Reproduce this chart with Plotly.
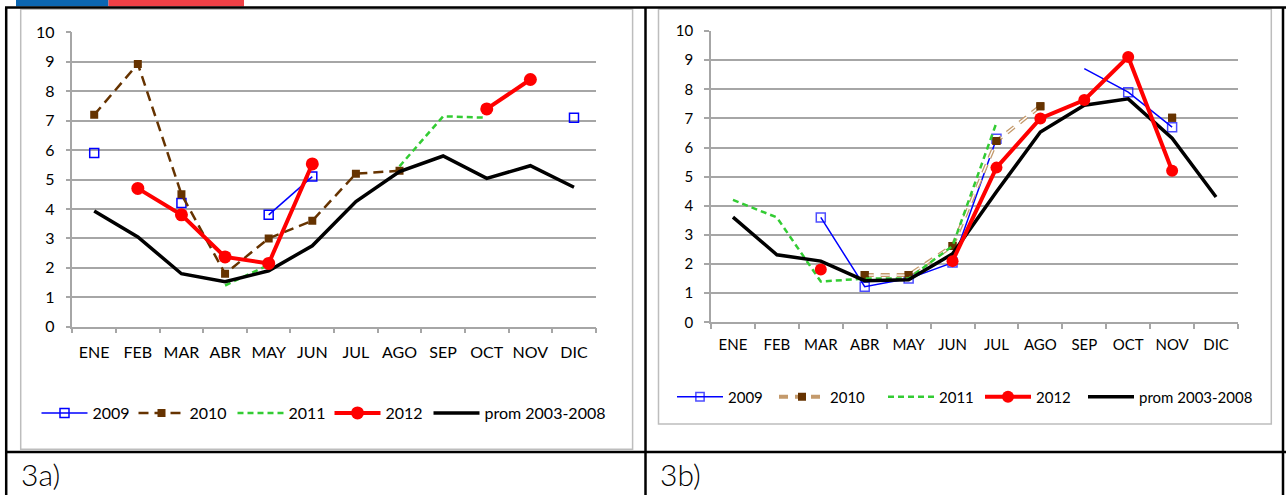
import plotly.graph_objects as go

W, H = 1286, 495

months = ["ENE", "FEB", "MAR", "ABR", "MAY", "JUN", "JUL", "AGO", "SEP", "OCT", "NOV", "DIC"]
y_ticks = [0, 1, 2, 3, 4, 5, 6, 7, 8, 9, 10]
series_names = ["2009", "2010", "2011", "2012", "prom 2003-2008"]
panel_labels = ["3a)", "3b)"]

# ---- panel 3a ----
a_2009 = [5.9, None, 4.2, None, 3.8, 5.1, None, None, None, None, None, 7.1]
a_2010 = [7.2, 8.93, 4.5, 1.8, 3.0, 3.6, 5.2, 5.3, None, None, None, None]
a_2011 = [None, None, None, 1.4, 2.1, None, None, 5.45, 7.15, 7.1, None, None]
a_2012 = [None, 4.7, 3.8, 2.37, 2.15, 5.53, None, None, None, 7.4, 8.4, None]
a_prom = [3.93, 3.05, 1.8, 1.53, 1.9, 2.75, 4.25, 5.27, 5.8, 5.04, 5.47, 4.74]

# ---- panel 3b ----
b_2009 = [None, None, 3.6, 1.22, 1.5, 2.05, 6.3, None, 8.71, 7.9, 6.7, None]
b_2010 = [None, None, None, 1.62, 1.62, 2.62, 6.22, 7.42, None, None, 7.02, None]
b_2011 = [4.2, 3.6, 1.4, 1.5, 1.5, 2.62, 6.85, None, None, None, None, None]
b_2012 = [None, None, 1.81, None, None, 2.1, 5.31, 7.0, 7.63, 9.11, 5.2, None]
b_prom = [3.61, 2.32, 2.1, 1.43, 1.46, 2.35, 4.48, 6.53, 7.45, 7.67, 6.32, 4.3]

FONT = "Lato, 'Open Sans', sans-serif"
BLUE = "#0000ff"
BROWN = "#663300"
TAN = "#c49a6c"
GREEN = "#33cc33"
RED = "#ff0000"
GRID = "#a6a6a6"


def px_x(x):
    return x / W


def px_y(y):
    return 1 - y / H


fig = go.Figure()

# ----- 3a traces -----
ax = dict(xaxis="x", yaxis="y", legend="legend")
fig.add_trace(go.Scatter(x=months, y=a_2009, name=series_names[0], mode="lines+markers",
                         line=dict(color=BLUE, width=1.5),
                         marker=dict(symbol="square-open", size=9, color=BLUE, line=dict(width=1.5, color=BLUE)),
                         legendrank=1, legendwidth=36, **ax))
fig.add_trace(go.Scatter(x=months, y=a_2010, name=series_names[1], mode="lines+markers",
                         line=dict(color=BROWN, width=2.5, dash="10px,6px"),
                         marker=dict(symbol="square", size=8, color=BROWN),
                         legendrank=2, legendwidth=38, **ax))
fig.add_trace(go.Scatter(x=months, y=a_2011, name=series_names[2], mode="lines",
                         line=dict(color=GREEN, width=2.5, dash="6px,4px"),
                         legendrank=3, legendwidth=36, **ax))
fig.add_trace(go.Scatter(x=months, y=a_prom, name=series_names[4], mode="lines",
                         line=dict(color="black", width=3.5),
                         legendrank=5, **ax))
fig.add_trace(go.Scatter(x=months, y=a_2012, name=series_names[3], mode="lines+markers",
                         line=dict(color=RED, width=4),
                         marker=dict(symbol="circle", size=13, color=RED),
                         legendrank=4, legendwidth=38, **ax))

# ----- 3b traces -----
bx = dict(xaxis="x2", yaxis="y2", legend="legend2")
fig.add_trace(go.Scatter(x=months, y=b_2009, name=series_names[0], mode="lines+markers",
                         line=dict(color=BLUE, width=1.5),
                         marker=dict(symbol="square-open", color=BLUE, line=dict(width=1.5, color=BLUE),
                                     size=[0 if m == "SEP" else 9 for m in months]),
                         legendrank=1, legendwidth=41, **bx))
fig.add_trace(go.Scatter(x=months, y=b_2010, name=series_names[1], mode="lines+markers",
                         line=dict(color=TAN, width=4, dash="9px,7px"),
                         marker=dict(symbol="square", size=8, color=BROWN),
                         legendrank=2, legendwidth=48, **bx))
fig.add_trace(go.Scatter(x=months, y=b_2010, name=series_names[1], mode="lines",
                         line=dict(color="white", width=1.4, dash="9px,7px"),
                         showlegend=False, hoverinfo="skip", **bx))
fig.add_trace(go.Scatter(x=months, y=b_2010, name=series_names[1], mode="markers",
                         marker=dict(symbol="square", size=8, color=BROWN),
                         showlegend=False, **bx))
fig.add_trace(go.Scatter(x=months, y=b_2011, name=series_names[2], mode="lines",
                         line=dict(color=GREEN, width=2.5, dash="6px,4px"),
                         legendrank=3, legendwidth=36, **bx))
fig.add_trace(go.Scatter(x=months, y=b_prom, name=series_names[4], mode="lines",
                         line=dict(color="black", width=3.5),
                         legendrank=5, **bx))
fig.add_trace(go.Scatter(x=months, y=b_2012, name=series_names[3], mode="lines+markers",
                         line=dict(color=RED, width=4),
                         marker=dict(symbol="circle", size=12, color=RED),
                         legendrank=4, legendwidth=42, **bx))

xcommon = dict(type="category", categoryorder="array", categoryarray=months, range=[-0.5, 11.5],
               tickson="boundaries", ticks="outside", ticklen=5, tickwidth=1.5, tickcolor=GRID,
               showgrid=False, showline=True, linecolor=GRID, linewidth=1.5, zeroline=False,
               fixedrange=True, color="black", tickangle=0, automargin=False)
ycommon = dict(range=[0, 10], tickvals=y_ticks, ticks="outside", ticklen=5, tickwidth=1.5, tickcolor=GRID,
               showgrid=True, gridcolor=GRID, gridwidth=2, showline=True, linecolor=GRID, linewidth=1.5,
               zeroline=False, fixedrange=True, color="black", automargin=False)

legcommon = dict(orientation="h", xanchor="left", yanchor="middle", bgcolor="rgba(0,0,0,0)",
                 itemwidth=46, traceorder="normal", borderwidth=0)

shapes = []
# header colour bar
shapes.append(dict(type="rect", xref="paper", yref="paper", x0=px_x(16), x1=px_x(108.5), y0=px_y(0), y1=px_y(6.5),
                   fillcolor="#0b66b2", line=dict(width=0)))
shapes.append(dict(type="rect", xref="paper", yref="paper", x0=px_x(108.5), x1=px_x(244), y0=px_y(0), y1=px_y(6.5),
                   fillcolor="#ef4046", line=dict(width=0)))
# chart frames
shapes.append(dict(type="rect", xref="paper", yref="paper", x0=px_x(20.7), x1=px_x(632.6), y0=px_y(449.3), y1=px_y(9.3),
                   line=dict(color="#bdbdbd", width=1.5), layer="below"))
shapes.append(dict(type="rect", xref="paper", yref="paper", x0=px_x(658.5), x1=px_x(1271.3), y0=px_y(424), y1=px_y(9.3),
                   line=dict(color="#bdbdbd", width=1.5), layer="below"))
# table lines
tl = dict(color="black", width=2.5)
shapes.append(dict(type="line", xref="paper", yref="paper", x0=px_x(5), x1=1, y0=px_y(7.5), y1=px_y(7.5), line=tl))
shapes.append(dict(type="line", xref="paper", yref="paper", x0=px_x(5), x1=1, y0=px_y(452), y1=px_y(452), line=tl))
for xv in (6.2, 645.5, 1283):
    shapes.append(dict(type="line", xref="paper", yref="paper", x0=px_x(xv), x1=px_x(xv), y0=px_y(7.5), y1=0, line=tl))

annotations = [
    dict(text=panel_labels[0], xref="paper", yref="paper", x=px_x(19), y=px_y(473.5), xanchor="left", yanchor="middle",
         showarrow=False, font=dict(family=FONT, size=30, color="black", weight=300)),
    dict(text=panel_labels[1], xref="paper", yref="paper", x=px_x(658), y=px_y(473.5), xanchor="left", yanchor="middle",
         showarrow=False, font=dict(family=FONT, size=30, color="black", weight=300)),
]

fig.update_layout(
    width=W, height=H, margin=dict(l=0, r=0, t=0, b=0, pad=0, autoexpand=False),
    paper_bgcolor="white", plot_bgcolor="white",
    font=dict(family=FONT, color="black", size=16),
    xaxis=dict(domain=[px_x(72.4), px_x(595.8)], anchor="y", tickfont=dict(size=16), ticklabelstandoff=10, **xcommon),
    yaxis=dict(domain=[px_y(326.7), px_y(32.4)], anchor="x", tickfont=dict(size=16), ticklabelstandoff=8, **ycommon),
    xaxis2=dict(domain=[px_x(711), px_x(1238)], anchor="y2", tickfont=dict(size=15), ticklabelstandoff=8, **xcommon),
    yaxis2=dict(domain=[px_y(322.3), px_y(31)], anchor="x2", tickfont=dict(size=15), ticklabelstandoff=8, **ycommon),
    legend=dict(x=px_x(36.5), y=px_y(413), font=dict(family=FONT, size=16, color="black"), **legcommon),
    legend2=dict(x=px_x(672), y=px_y(397), font=dict(family=FONT, size=15, color="black"), **legcommon),
    shapes=shapes,
    annotations=annotations,
    hovermode=False,
)

fig.write_html("out.html",
               config={"displayModeBar": False, "staticPlot": False},
               post_script="document.body.style.margin='0px';document.body.style.overflow='hidden';")
